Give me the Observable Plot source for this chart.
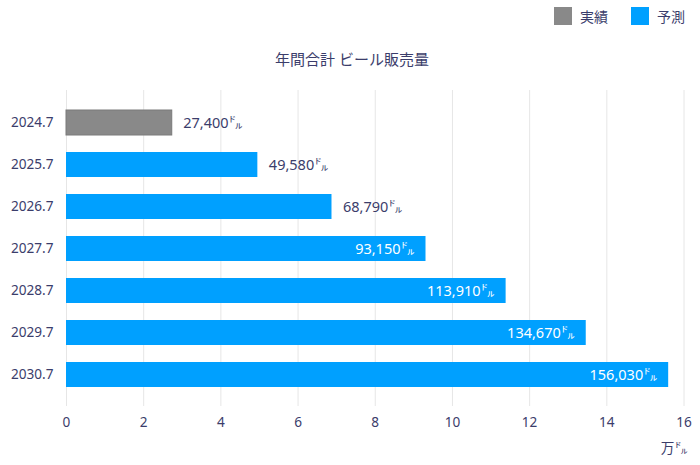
<!DOCTYPE html>
<html>
<head>
<meta charset="utf-8">
<script src="https://cdn.jsdelivr.net/npm/d3@7"></script>
<script src="https://cdn.jsdelivr.net/npm/@observablehq/plot@0.6"></script>
<style>
  html, body { margin: 0; padding: 0; background: #fff; }
  body { width: 700px; height: 465px; position: relative; overflow: hidden;
         font-family: "Noto Sans", "Noto Sans CJK JP", sans-serif; color: #3b3d6b; }
  #legend { position: absolute; top: 6px; right: 15px; display: flex; align-items: center; font-size: 14px; z-index: 2; }
  #legend .item { display: flex; align-items: center; margin-left: 23px; }
  #legend .sw { width: 18px; height: 18px; margin-right: 8px; box-sizing: border-box; }
  #title { position: absolute; top: 48px; left: 0; width: 704px; text-align: center; font-size: 15px; z-index: 2; }
  #chart { position: absolute; top: 0; left: 0; }
</style>
</head>
<body>
<div id="legend"></div>
<div id="title"></div>
<div id="chart"></div>
<script>
const periods = ["2024.7", "2025.7", "2026.7", "2027.7", "2028.7", "2029.7", "2030.7"];
const sales = [27400, 49580, 68790, 93150, 113910, 134670, 156030]; // ドル
const kinds = ["実績", "予測", "予測", "予測", "予測", "予測", "予測"];
const seriesNames = ["実績", "予測"];
const seriesColors = ["#898989", "#00a0ff"];
const xTicks = [0, 2, 4, 6, 8, 10, 12, 14, 16];
const unitLabel = "万㌦";
const titleText = "年間合計 ビール販売量";

const textColor = "#3b3d6b";
const data = periods.map((p, i) => ({period: p, value: sales[i], man: sales[i] / 10000, kind: kinds[i]}));
const maxV = d3.max(sales);
const fmt = v => d3.format(",")(v) + "㌦";
const inside = data.filter(d => d.value > maxV / 2);
const outside = data.filter(d => d.value <= maxV / 2);

// legend
const legend = document.getElementById("legend");
seriesNames.forEach((n, i) => {
  const it = document.createElement("div");
  it.className = "item";
  const sw = document.createElement("div");
  sw.className = "sw";
  sw.style.background = seriesColors[i];
  const t = document.createElement("span");
  t.textContent = n;
  it.append(sw, t);
  legend.append(it);
});
document.getElementById("title").textContent = titleText;

const chart = Plot.plot({
  width: 700,
  height: 465,
  marginTop: 90,
  marginBottom: 59,
  marginLeft: 66,
  marginRight: 16.5,
  style: {fontFamily: '"Noto Sans", "Noto Sans CJK JP", sans-serif', fontSize: "13.6px", color: textColor, background: "transparent"},
  x: {domain: [0, 16], ticks: xTicks, tickSize: 0, tickPadding: 11, label: null},
  y: {domain: periods, paddingInner: 0.41, paddingOuter: 0.458, tickSize: 0, tickPadding: 13, label: null},
  color: {domain: seriesNames, range: seriesColors},
  marks: [
    Plot.ruleX(xTicks, {stroke: "#e6e6e6", strokeWidth: 1}),
    Plot.ruleY([0], {y: () => 0, frameAnchor: "bottom", stroke: "#e0e0e0"}),
    Plot.barX(data, {x: "man", y: "period", fill: "kind", stroke: d => d.kind === "実績" ? "#7a7a7a" : "none", strokeWidth: 1}),
    Plot.text(outside, {x: "man", y: "period", text: d => fmt(d.value), textAnchor: "start", dx: 11, fill: textColor, fontSize: 14.5}),
    Plot.text(inside, {x: "man", y: "period", text: d => fmt(d.value), textAnchor: "end", dx: -11, fill: "white", fontSize: 14.5}),
    Plot.text([unitLabel], {frameAnchor: "bottom-right", dy: 46, dx: 4, textAnchor: "end", fill: textColor, fontSize: 13.6})
  ]
});
document.getElementById("chart").append(chart);
</script>
</body>
</html>
